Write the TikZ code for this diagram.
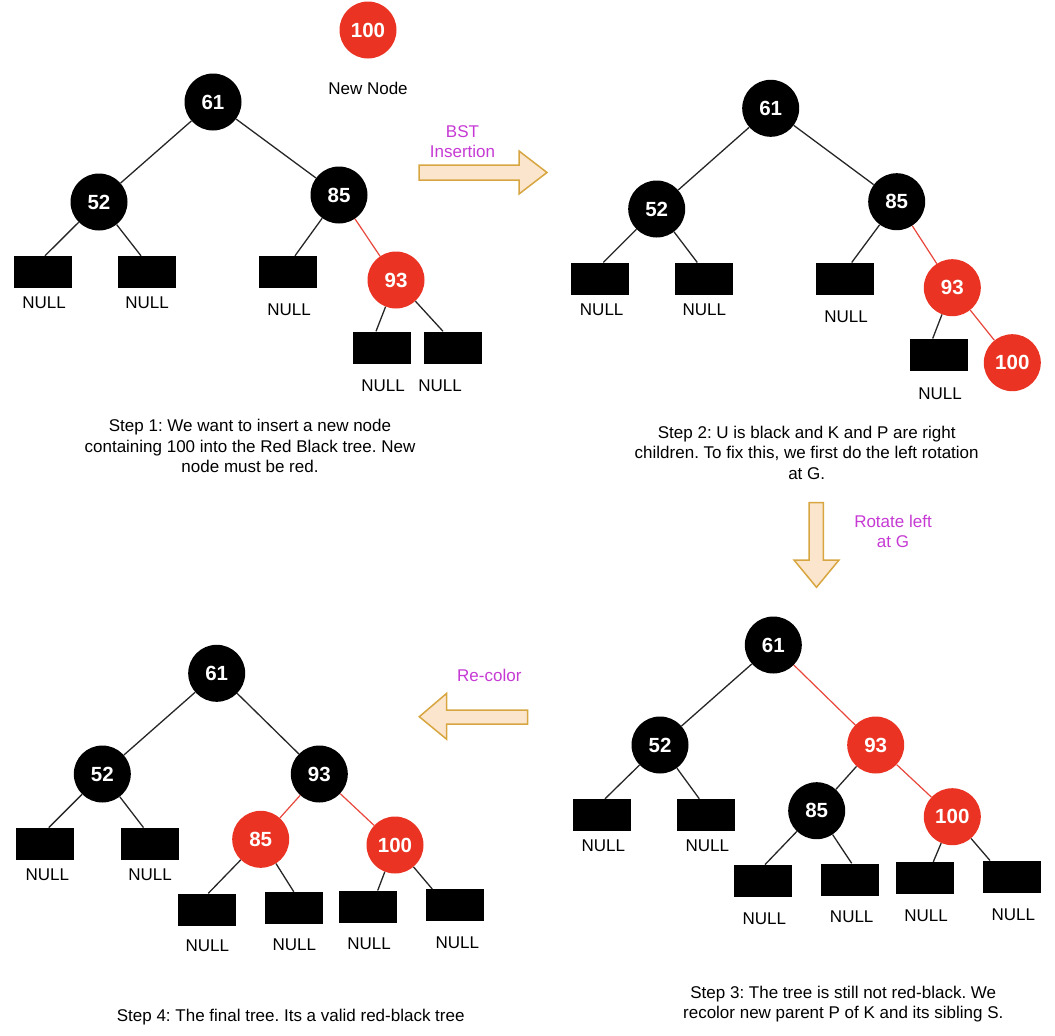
\documentclass[tikz,border=0pt]{standalone}
\usepackage{fontspec}
\setmainfont{Liberation Sans}
\usetikzlibrary{calc}
\frenchspacing

\definecolor{rbred}{HTML}{EA3323}
\definecolor{redline}{HTML}{E8463A}
\definecolor{pinklbl}{HTML}{C63AD4}
\definecolor{peach}{HTML}{FCE5CD}
\definecolor{gold}{HTML}{D7A640}

\tikzset{
  blk/.style={circle, fill=black, minimum size=57pt, inner sep=0pt, text=white,
              font=\fontsize{20.5}{24}\selectfont\bfseries},
  rd/.style={blk, fill=rbred},
  nil/.style={rectangle, fill=black, minimum width=58pt, minimum height=32pt, inner sep=0pt},
  lbl/.style={inner sep=0pt, font=\fontsize{17}{20.5}\selectfont},
  steptext/.style={lbl, align=center},
  pink/.style={lbl, align=center, text=pinklbl},
  edge/.style={line width=1.3pt, draw=black!85},
  redge/.style={line width=1.2pt, draw=redline},
  fatarrow/.style={fill=peach, draw=gold, line width=1.5pt, line join=miter},
}

\begin{document}
\begin{tikzpicture}[x=1pt, y=-1pt]
\useasboundingbox (0,0) rectangle (1055,1036);

% ---------------- Step 1 ----------------
\node[rd]  (anew) at (368,30) {100};
\node[lbl] (anewl) at (368,88) {New Node};
\node[blk] (a61) at (213,102) {61};
\node[blk] (a52) at (99,202) {52};
\node[blk] (a85) at (339,195) {85};
\node[rd]  (a93) at (396,280) {93};
\node[nil] (ax1) at (42.5,272) {};
\node[nil] (ax2) at (146.5,272) {};
\node[nil] (ax3) at (287.5,272) {};
\node[nil] (ax4) at (381.5,347.5) {};
\node[nil] (ax5) at (453,347.5) {};
\node[lbl] (al1) at (44,303) {NULL};
\node[lbl] (al2) at (147,303) {NULL};
\node[lbl] (al3) at (289,310) {NULL};
\node[lbl] (al4) at (383,386) {NULL};
\node[lbl] (al5) at (440,386) {NULL};
\draw[edge] (a61) -- (a52);
\draw[edge] (a61) -- (a85);
\draw[edge] (a52) -- ($(ax1.north)+(2.5,0)$);
\draw[edge] (a52) -- ($(ax2.north)+(-5.5,0)$);
\draw[edge] (a85) -- ($(ax3.north)+(7.5,0)$);
\draw[redge] (a85) -- (a93);
\draw[edge] (a93) -- ($(ax4.north)+(-5.5,0)$);
\draw[edge] (a93) -- ($(ax5.north)+(-10,0)$);
\node[steptext] (acap) at (250,446) {Step 1: We want to insert a new node\\containing 100 into the Red Black tree. New\\node must be red.};

% BST insertion arrow
\draw[fatarrow] (419,165) -- (519,165) -- (519,151) -- (547,172.5) -- (519,194) -- (519,180) -- (419,180) -- cycle;
\node[pink] (arr1) at (462.5,141.5) {BST\\Insertion};

% ---------------- Step 2 ----------------
\node[blk] (b61) at (770.7,108.3) {61};
\node[blk] (b52) at (656.7,209) {52};
\node[blk] (b85) at (896.7,201.7) {85};
\node[rd]  (b93) at (952.3,287.7) {93};
\node[rd]  (b100) at (1012.3,362.7) {100};
\node[nil] (bx1) at (599.7,278.7) {};
\node[nil] (bx2) at (704,278.7) {};
\node[nil] (bx3) at (845,278.7) {};
\node[nil] (bx4) at (939,354.7) {};
\node[lbl] (bl1) at (601.7,310) {NULL};
\node[lbl] (bl2) at (704.3,310) {NULL};
\node[lbl] (bl3) at (846,316.7) {NULL};
\node[lbl] (bl4) at (940,393.3) {NULL};
\draw[edge] (b61) -- (b52);
\draw[edge] (b61) -- (b85);
\draw[edge] (b52) -- ($(bx1.north)+(3.6,0)$);
\draw[edge] (b52) -- ($(bx2.north)+(-6.7,0)$);
\draw[edge] (b85) -- ($(bx3.north)+(6.7,0)$);
\draw[redge] (b85) -- (b93);
\draw[edge] (b93) -- ($(bx4.north)+(-6.3,0)$);
\draw[redge] (b93) -- (b100);
\node[steptext] (bcap) at (806.7,452.7) {Step 2: U is black and K and P are right\\children. To fix this, we first do the left rotation\\at G.};

% rotation arrow
\draw[fatarrow] (809,502.7) -- (823.3,502.7) -- (823.3,560) -- (839,560) -- (816.5,587.3) -- (794,560) -- (809,560) -- cycle;
\node[pink] (arr2) at (893,531.5) {Rotate left\\at G};

% ---------------- Step 3 ----------------
\node[blk] (c61) at (773.3,645) {61};
\node[blk] (c52) at (660,745) {52};
\node[rd]  (c93) at (875.7,745) {93};
\node[blk] (c85) at (816.7,810.7) {85};
\node[rd]  (c100) at (952.3,816.7) {100};
\node[nil] (cx1) at (601.5,815) {};
\node[nil] (cx2) at (705.8,815) {};
\node[nil] (cx3) at (763.2,880.8) {};
\node[nil] (cx4) at (850.2,879.5) {};
\node[nil] (cx5) at (924.8,878) {};
\node[nil] (cx6) at (1011.8,876.7) {};
\node[lbl] (cl1) at (603.3,846) {NULL};
\node[lbl] (cl2) at (707.3,846) {NULL};
\node[lbl] (cl3) at (764.3,918.3) {NULL};
\node[lbl] (cl4) at (851.7,916.7) {NULL};
\node[lbl] (cl5) at (926,915.7) {NULL};
\node[lbl] (cl6) at (1013.3,914.3) {NULL};
\draw[edge] (c61) -- (c52);
\draw[redge] (c61) -- (c93);
\draw[edge] (c52) -- ($(cx1.north)+(3.5,0)$);
\draw[edge] (c52) -- ($(cx2.north)+(-6.5,0)$);
\draw[edge] (c93) -- (c85);
\draw[redge] (c93) -- (c100);
\draw[edge] (c85) -- ($(cx3.north)+(1.8,0)$);
\draw[edge] (c85) -- ($(cx4.north)+(1.5,0)$);
\draw[edge] (c100) -- ($(cx5.north)+(8.5,0)$);
\draw[edge] (c100) -- ($(cx6.north)+(-21.8,0)$);
\node[steptext] (ccap) at (843.3,1004) {Step 3: The tree is still not red-black. We\\recolor new parent P of K and its sibling S.};

% recolor arrow
\draw[fatarrow] (527.7,710) -- (446.7,710) -- (446.7,693.3) -- (419.3,716.7) -- (446.7,739.3) -- (446.7,724) -- (527.7,724) -- cycle;
\node[pink] (arr3) at (489.3,675) {Re-color};

% ---------------- Step 4 ----------------
\node[blk] (d61) at (216.7,673.3) {61};
\node[blk] (d52) at (102.3,774) {52};
\node[blk] (d93) at (319.3,774) {93};
\node[rd]  (d85) at (260.7,839.3) {85};
\node[rd]  (d100) at (395,845) {100};
\node[nil] (dx1) at (44.8,843.8) {};
\node[nil] (dx2) at (149.5,843.8) {};
\node[nil] (dx3) at (206.7,909.5) {};
\node[nil] (dx4) at (293.8,908) {};
\node[nil] (dx5) at (368.2,906.7) {};
\node[nil] (dx6) at (455,905.3) {};
\node[lbl] (dl1) at (47.3,874.3) {NULL};
\node[lbl] (dl2) at (150,874.3) {NULL};
\node[lbl] (dl3) at (207.3,946) {NULL};
\node[lbl] (dl4) at (294.3,945) {NULL};
\node[lbl] (dl5) at (369,944) {NULL};
\node[lbl] (dl6) at (457.3,942.7) {NULL};
\draw[edge] (d61) -- (d52);
\draw[edge] (d61) -- (d93);
\draw[edge] (d52) -- ($(dx1.north)+(4,0)$);
\draw[edge] (d52) -- ($(dx2.north)+(-6,0)$);
\draw[redge] (d93) -- (d85);
\draw[redge] (d93) -- (d100);
\draw[edge] (d85) -- ($(dx3.north)+(1.6,0)$);
\draw[edge] (d85) -- (dx4.north);
\draw[edge] (d100) -- ($(dx5.north)+(9.5,0)$);
\draw[edge] (d100) -- ($(dx6.north)+(-22.7,0)$);
\node[steptext] (dcap) at (290.7,1017.3) {Step 4: The final tree. Its a valid red-black tree};

\end{tikzpicture}
\end{document}
